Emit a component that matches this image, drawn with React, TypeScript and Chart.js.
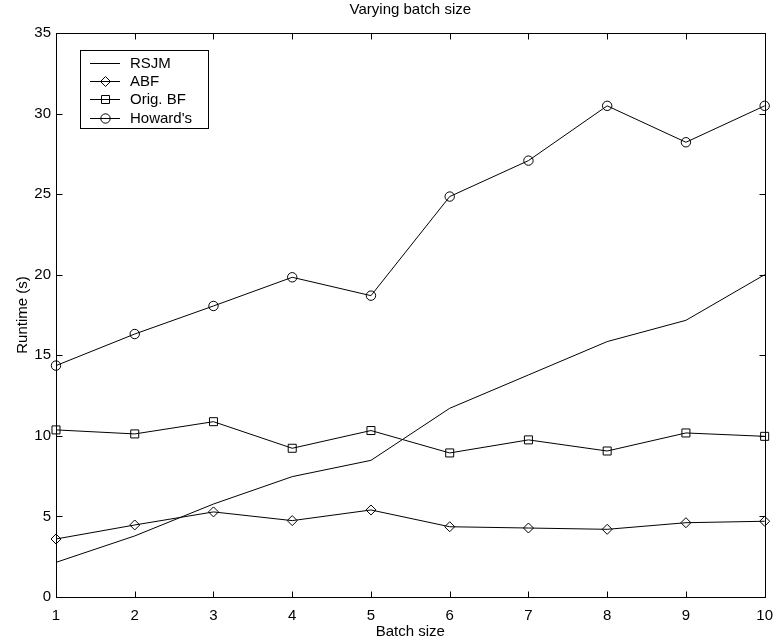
import React, { useEffect, useRef } from "react";
import { Chart, registerables } from "chart.js";

Chart.register(...registerables);

// ---- data ----
const batchSizes = ["1", "2", "3", "4", "5", "6", "7", "8", "9", "10"];
const rsjm = [2.15, 3.79, 5.77, 7.47, 8.48, 11.71, 13.78, 15.85, 17.17, 20.0];
const abf = [3.6, 4.47, 5.28, 4.74, 5.4, 4.36, 4.28, 4.2, 4.61, 4.7];
const origBF = [10.37, 10.12, 10.88, 9.23, 10.33, 8.94, 9.75, 9.06, 10.18, 9.97];
const howards = [14.36, 16.32, 18.06, 19.84, 18.7, 24.85, 27.08, 30.48, 28.22, 30.48];
const seriesNames = ["RSJM", "ABF", "Orig. BF", "Howard's"];
const yMin = 0;
const yMax = 35;
const yStep = 5;
const chartTitle = "Varying batch size";
const xTitle = "Batch size";
const yTitle = "Runtime (s)";

const FONT = '"Liberation Sans", Arial, Helvetica, sans-serif';

function drawMarker(ctx: CanvasRenderingContext2D, style: string, x: number, y: number) {
  ctx.beginPath();
  if (style === "circle") {
    ctx.arc(x, y, 4.7, 0, Math.PI * 2);
  } else if (style === "rect") {
    ctx.rect(x - 4, y - 4, 8, 8);
  } else if (style === "rectRot") {
    ctx.moveTo(x - 5, y);
    ctx.lineTo(x, y - 5);
    ctx.lineTo(x + 5, y);
    ctx.lineTo(x, y + 5);
    ctx.closePath();
  }
  ctx.stroke();
}

const framePlugin = {
  id: "matlabFrame",
  afterDraw(chart: any) {
    const { ctx, chartArea: a, scales } = chart;
    const xs = scales.x;
    const ys = scales.y;
    ctx.save();
    ctx.strokeStyle = "#000";
    ctx.lineWidth = 1;
    const L = Math.round(a.left) + 0.5;
    const R = Math.round(a.right) + 0.5;
    const T = Math.round(a.top) + 0.5;
    const B = Math.round(a.bottom) + 0.5;
    ctx.strokeRect(L, T, R - L, B - T);
    const tl = 6;
    ctx.beginPath();
    xs.ticks.forEach((_t: any, i: number) => {
      const px = Math.round(xs.getPixelForTick(i)) + 0.5;
      ctx.moveTo(px, B);
      ctx.lineTo(px, B - tl);
      ctx.moveTo(px, T);
      ctx.lineTo(px, T + tl);
    });
    ys.ticks.forEach((_t: any, i: number) => {
      const py = Math.round(ys.getPixelForTick(i)) + 0.5;
      ctx.moveTo(L, py);
      ctx.lineTo(L + tl, py);
      ctx.moveTo(R, py);
      ctx.lineTo(R - tl, py);
    });
    ctx.stroke();

    // titles
    ctx.fillStyle = "#000";
    ctx.font = `15px ${FONT}`;
    ctx.textAlign = "center";
    ctx.textBaseline = "alphabetic";
    const cx = (a.left + a.right) / 2;
    ctx.fillText(chartTitle, cx, 14);
    ctx.fillText(xTitle, cx, 636);
    ctx.save();
    ctx.translate(27, (a.top + a.bottom) / 2);
    ctx.rotate(-Math.PI / 2);
    ctx.fillText(yTitle, 0, 0);
    ctx.restore();

    // legend
    const bx = 80.5, by = 50.5, bw = 128, bh = 78;
    ctx.fillStyle = "#fff";
    ctx.fillRect(bx, by, bw, bh);
    ctx.strokeStyle = "#000";
    ctx.strokeRect(bx, by, bw, bh);
    ctx.fillStyle = "#000";
    ctx.textAlign = "left";
    ctx.textBaseline = "middle";
    chart.data.datasets.forEach((ds: any, i: number) => {
      const yy = Math.round(62.5 + i * 18.4) + 0.5;
      ctx.beginPath();
      ctx.moveTo(90, yy);
      ctx.lineTo(120, yy);
      ctx.stroke();
      if (ds.pointRadius > 0) drawMarker(ctx, ds.pointStyle, 105.5, yy);
      ctx.fillText(ds.label, 130, yy);
    });
    ctx.restore();
  },
};

export default function App() {
  const canvasRef = useRef<HTMLCanvasElement | null>(null);

  useEffect(() => {
    if (!canvasRef.current) return;
    const base = {
      borderColor: "#000",
      borderWidth: 1,
      pointBorderColor: "#000",
      pointBackgroundColor: "rgba(0,0,0,0)",
      pointBorderWidth: 1,
      tension: 0,
      fill: false,
      clip: false as any,
    };
    const chart = new Chart(canvasRef.current, {
      type: "line",
      data: {
        labels: batchSizes,
        datasets: [
          { ...base, label: seriesNames[0], data: rsjm, pointRadius: 0, pointStyle: "circle" },
          { ...base, label: seriesNames[1], data: abf, pointRadius: 5, pointStyle: "rectRot" },
          { ...base, label: seriesNames[2], data: origBF, pointRadius: 5.66, pointStyle: "rect" },
          { ...base, label: seriesNames[3], data: howards, pointRadius: 4.7, pointStyle: "circle" },
        ],
      },
      options: {
        responsive: false,
        animation: false,
        devicePixelRatio: 1,
        layout: { padding: { top: 33, right: 12, left: 0, bottom: 0 } },
        plugins: {
          legend: { display: false },
          title: { display: false },
          tooltip: { enabled: false },
        },
        elements: { point: { hoverRadius: 0 } },
        scales: {
          x: {
            type: "category",
            offset: false,
            grid: { display: false, drawTicks: false },
            border: { display: false },
            ticks: {
              padding: 10,
              color: "#000",
              font: { family: FONT, size: 15 },
              maxRotation: 0,
              autoSkip: false,
            },
            afterFit(s: any) {
              s.height = 44;
            },
          },
          y: {
            type: "linear",
            min: yMin,
            max: yMax,
            grid: { display: false, drawTicks: false },
            border: { display: false },
            ticks: {
              stepSize: yStep,
              padding: 5,
              color: "#000",
              font: { family: FONT, size: 15 },
            },
            afterFit(s: any) {
              s.width = 56;
            },
          },
        },
      },
      plugins: [framePlugin],
    });
    return () => chart.destroy();
  }, []);

  return (
    <div style={{ position: "absolute", left: 0, top: 0, width: 783, height: 641, background: "#fff" }}>
      <canvas ref={canvasRef} width={783} height={641} />
    </div>
  );
}
